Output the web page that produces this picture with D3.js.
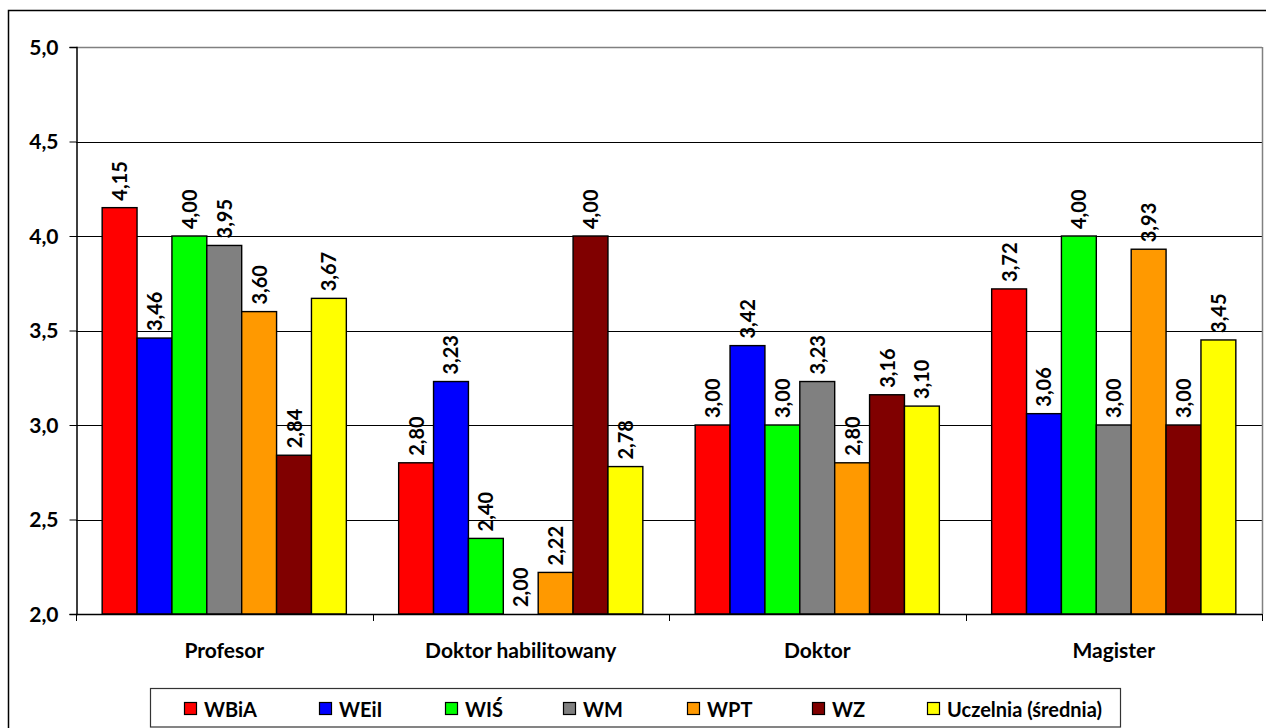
<!DOCTYPE html>
<html><head><meta charset="utf-8">
<script src="https://cdn.jsdelivr.net/npm/d3@7"></script>
<style>body{margin:0;background:#fff}svg{display:block}text{font-family:Lato,"Open Sans",sans-serif;font-weight:bold}</style>
</head><body><svg id="c" width="1266" height="728"></svg>
<script>
const categories = ["Profesor","Doktor habilitowany","Doktor","Magister"];
const seriesNames = ["WBiA","WEiI","WIŚ","WM","WPT","WZ","Uczelnia (średnia)"];
const seriesColors = ["#ff0000","#0000ff","#00ff00","#808080","#ff9900","#800000","#ffff00"];
const WBiA = [4.15,2.80,3.00,3.72];
const WEiI = [3.46,3.23,3.42,3.06];
const WIS  = [4.00,2.40,3.00,4.00];
const WM   = [3.95,2.00,3.23,3.00];
const WPT  = [3.60,2.22,2.80,3.93];
const WZ   = [2.84,4.00,3.16,3.00];
const UCZ  = [3.67,2.78,3.10,3.45];
const yTicks = [2.0,2.5,3.0,3.5,4.0,4.5,5.0];
const seriesValues = [WBiA,WEiI,WIS,WM,WPT,WZ,UCZ];

const svg = d3.select("#c");
const L=76,R=1262,T=47,B=614;
// outer border
svg.append("rect").attr("x",8.5).attr("y",10.5).attr("width",1300).attr("height",800).attr("fill","none").attr("stroke","#000").attr("stroke-width",1.5);

const x0 = d3.scaleBand().domain(categories).range([L,R]).paddingInner(0).paddingOuter(0);
const bw = x0.bandwidth()/8.5;
const y = d3.scaleLinear().domain([2,5]).range([B,T]);

// gridlines
svg.append("g").selectAll("line").data(yTicks.slice(1)).join("line")
 .attr("x1",L).attr("x2",R).attr("y1",d=>Math.round(y(d))+0.5).attr("y2",d=>Math.round(y(d))+0.5)
 .attr("stroke","#000").attr("stroke-width",1);
svg.append("line").attr("x1",L).attr("x2",R).attr("y1",T+0.5).attr("y2",T+0.5).attr("stroke","#808080").attr("stroke-width",1.5);
svg.append("line").attr("x1",R+0.5).attr("x2",R+0.5).attr("y1",T).attr("y2",B).attr("stroke","#808080").attr("stroke-width",1.5);

// bars
const g = svg.append("g");
categories.forEach((c,ci)=>{
  seriesNames.forEach((s,si)=>{
    const v = seriesValues[si][ci];
    const bx = x0(c)+bw*0.75+bw*si;
    g.append("rect").attr("x",bx).attr("y",y(v)).attr("width",bw).attr("height",y(2)-y(v))
     .attr("fill",seriesColors[si]).attr("stroke","#000").attr("stroke-width",1.4);
    g.append("text").attr("transform",`translate(${bx+bw/2+7.5},${y(v)-7}) rotate(-90)`)
     .attr("font-size",20).attr("text-anchor","start").attr("fill","#000")
     .text(v.toFixed(2).replace(".",","));
  });
});

// y axis
const ya = d3.axisLeft(y).tickValues(yTicks).tickSize(7).tickFormat(d=>d.toFixed(1).replace(".",","));
const yg = svg.append("g").attr("transform",`translate(${L+0.5},0)`).call(ya);
yg.select(".domain").attr("stroke","#000").attr("stroke-width",1.5);
yg.selectAll("line").attr("stroke","#000");
yg.selectAll("text").attr("font-size",21).attr("fill","#000").attr("x",-18).attr("dy","0.35em").attr("font-family","Lato,sans-serif").attr("font-weight","bold");

// x axis
svg.append("line").attr("x1",L).attr("x2",R).attr("y1",B+0.5).attr("y2",B+0.5).attr("stroke","#000").attr("stroke-width",1.5);
const bounds = categories.map(c=>x0(c)).concat([R]);
svg.append("g").selectAll("line").data(bounds).join("line")
 .attr("x1",d=>Math.round(d)+0.5).attr("x2",d=>Math.round(d)+0.5).attr("y1",B).attr("y2",B+7).attr("stroke","#000");
svg.append("g").selectAll("text").data(categories).join("text")
 .attr("x",d=>x0(d)+x0.bandwidth()/2).attr("y",658).attr("text-anchor","middle").attr("font-size",21).attr("fill","#000").text(d=>d);

// legend
svg.append("rect").attr("x",150.5).attr("y",688.5).attr("width",970).attr("height",38.5).attr("fill","#fff").attr("stroke","#333").attr("stroke-width",1.2);
const legX = [184,319,445,563,687,812,927];
const lg = svg.append("g");
seriesNames.forEach((s,i)=>{
  lg.append("rect").attr("x",legX[i]+0.5).attr("y",702.5).attr("width",12).attr("height",12).attr("fill",seriesColors[i]).attr("stroke","#000").attr("stroke-width",1.2);
  lg.append("text").attr("x",legX[i]+20).attr("y",717).attr("font-size",20).attr("fill","#000").text(s);
});
</script></body></html>
